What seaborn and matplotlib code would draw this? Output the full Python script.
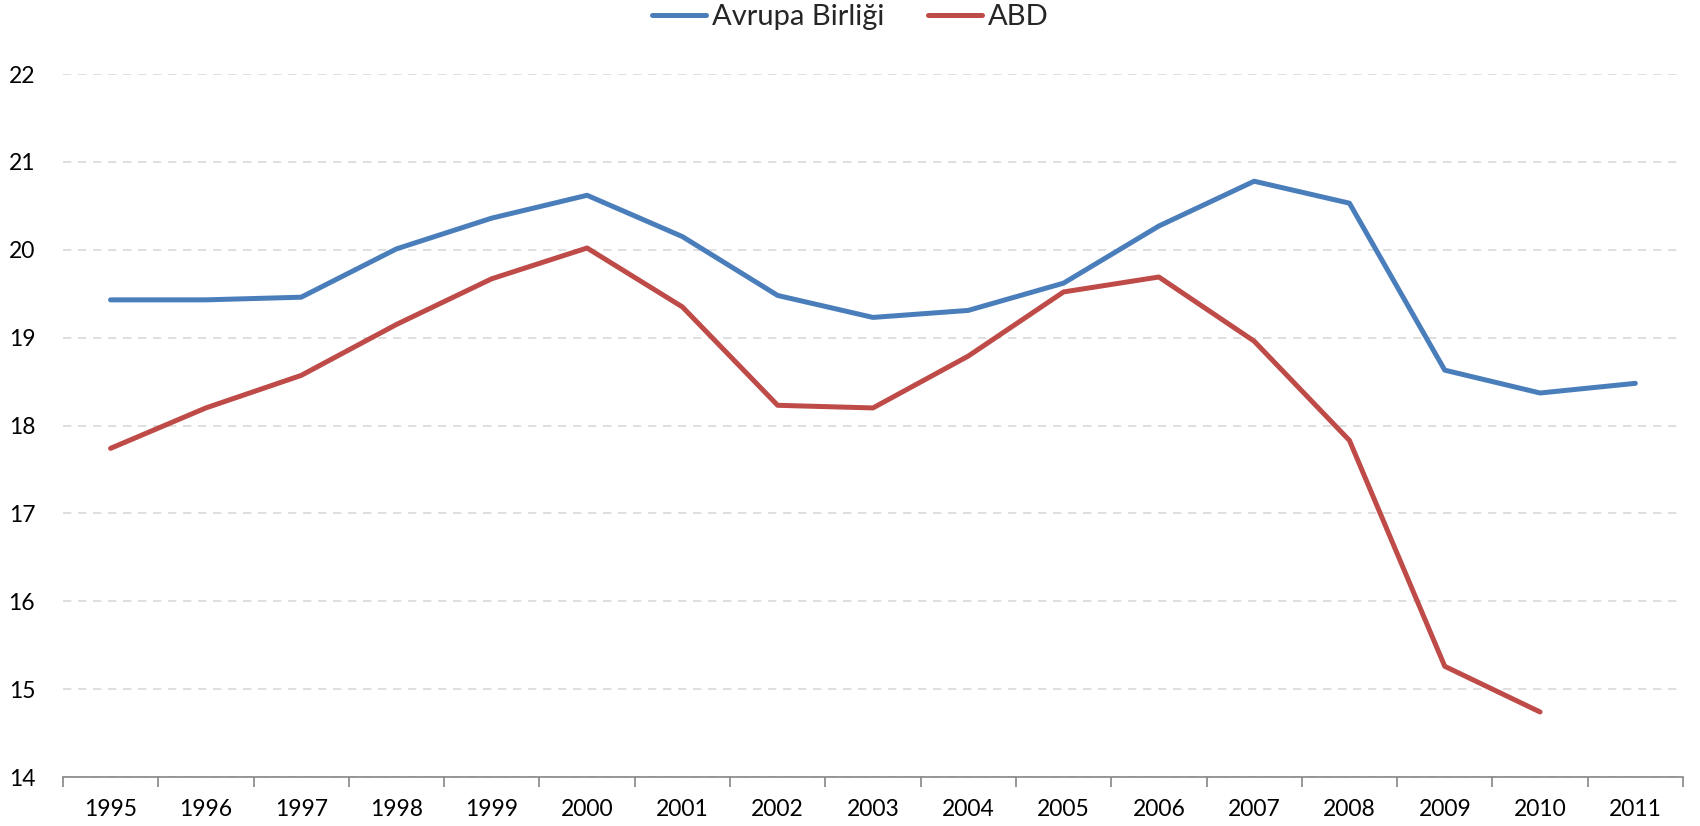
import numpy as np
import pandas as pd
import matplotlib
matplotlib.use("Agg")
import matplotlib.pyplot as plt
import seaborn as sns
from matplotlib.ticker import FixedLocator
from matplotlib.lines import Line2D

years = ["1995", "1996", "1997", "1998", "1999", "2000", "2001", "2002", "2003",
         "2004", "2005", "2006", "2007", "2008", "2009", "2010", "2011"]
eu = [19.43, 19.43, 19.46, 20.01, 20.36, 20.62, 20.15, 19.48, 19.23,
      19.31, 19.62, 20.27, 20.78, 20.53, 18.63, 18.37, 18.48]
us = [17.74, 18.20, 18.57, 19.15, 19.67, 20.02, 19.35, 18.23, 18.20,
      18.79, 19.52, 19.69, 18.96, 17.83, 15.26, 14.74, np.nan]
series_names = ["Avrupa Birliği", "ABD"]
colors = ["#4a7ebb", "#be4b48"]
yticks = [14, 15, 16, 17, 18, 19, 20, 21, 22]

sns.set_theme(style="white")
plt.rcParams["font.family"] = ["Lato", "DejaVu Sans"]

df = pd.DataFrame({
    "pos": list(range(len(years))) * 2,
    "value": eu + us,
    "series": [series_names[0]] * len(years) + [series_names[1]] * len(years),
})

fig = plt.figure(figsize=(17, 8.26), dpi=100)
ax = fig.add_axes([0.037, 0.0593, 0.953, 0.8511])

sns.lineplot(data=df, x="pos", y="value", hue="series", palette=colors,
             linewidth=3.6, ax=ax, legend=False)
for line in ax.lines:
    line.set_solid_capstyle("round")

ax.set_xlim(-0.5, len(years) - 0.5)
ax.set_ylim(14, 22)
ax.set_yticks(yticks)
ax.set_yticklabels([str(t) for t in yticks], fontsize=16.5)
ax.set_xticks(range(len(years)))
ax.set_xticklabels(years, fontsize=16.5)
ax.xaxis.set_minor_locator(FixedLocator(np.arange(-0.5, len(years), 1.0)))
ax.tick_params(axis="x", which="major", length=0, pad=16, colors="black")
ax.tick_params(axis="x", which="minor", length=7, width=1.2, color="#868686", bottom=True)
ax.tick_params(axis="y", length=0, pad=20, colors="black")
ax.set_xlabel("")
ax.set_ylabel("")

ax.grid(axis="y", color="#d9d9d9", linestyle=(0, (5, 4)), linewidth=1.2)
ax.grid(axis="x", visible=False)
ax.set_axisbelow(True)
for s in ["top", "right", "left"]:
    ax.spines[s].set_visible(False)
ax.spines["bottom"].set_color("#868686")
ax.spines["bottom"].set_linewidth(1.2)

handles = [Line2D([0], [0], color=c, linewidth=3.6, solid_capstyle="round") for c in colors]
fig.legend(handles, series_names, loc="center", bbox_to_anchor=(0.5, 0.979), ncol=2,
           frameon=False, fontsize=21, handlelength=1.85, handletextpad=0.2,
           columnspacing=1.5)

fig.savefig("out.png", dpi=100, facecolor="white")
